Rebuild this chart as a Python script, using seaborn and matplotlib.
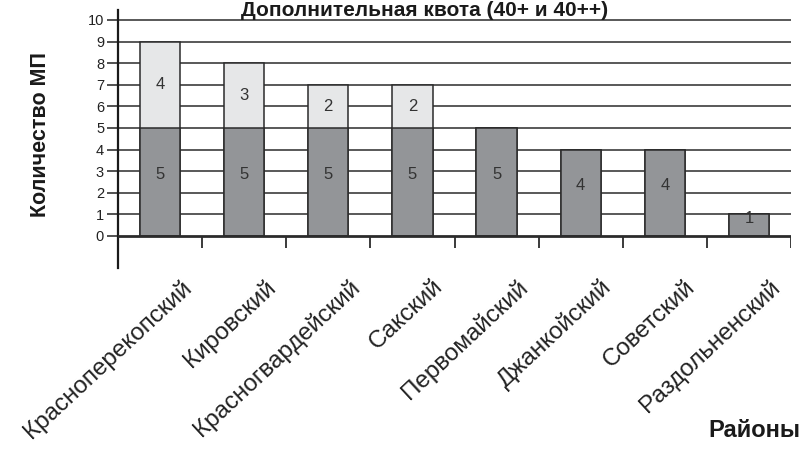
import numpy as np
import pandas as pd
import matplotlib
matplotlib.use('Agg')
import matplotlib.pyplot as plt
import matplotlib.transforms as mtransforms
import seaborn as sns

# data
districts = ['Красноперекопский', 'Кировский', 'Красногвардейский', 'Сакский',
             'Первомайский', 'Джанкойский', 'Советский', 'Раздольненский']
base_quota = [5, 5, 5, 5, 5, 4, 4, 1]
extra_quota = [4, 3, 2, 2, 0, 0, 0, 0]
y_ticks = list(range(0, 11))

df = pd.DataFrame({'district': districts, 'base': base_quota, 'extra': extra_quota})
df['total'] = df['base'] + df['extra']

sns.set_style('white')
plt.rcParams['font.family'] = ['Liberation Sans', 'DejaVu Sans']

fig = plt.figure(figsize=(8.08, 4.57), dpi=100)
ax = fig.add_axes([0.146, 0.414, 0.833, 0.564])

edge = '#2b2b2b'
# full height first (light), then the base part on top (dark)
sns.barplot(data=df, x='district', y='total', color='#e6e7e8', saturation=1,
            width=0.48, edgecolor=edge, linewidth=1.1, ax=ax, zorder=3)
sns.barplot(data=df, x='district', y='base', color='#939598', saturation=1,
            width=0.48, edgecolor=edge, linewidth=1.1, ax=ax, zorder=4)

light_bars = ax.containers[0]
dark_bars = ax.containers[1]

# labels for the extra part, only where there is one
for bar, e, t in zip(light_bars, df['extra'], df['total']):
    if e > 0:
        ax.text(bar.get_x() + bar.get_width() / 2, t - e / 2, str(e),
                ha='center', va='center', fontsize=12, color='#333333', zorder=6)
ax.bar_label(dark_bars, labels=[str(v) for v in base_quota], label_type='center',
             padding=5, fontsize=12, color='#333333', zorder=6)

ax.set_xlim(-0.5, len(districts) - 0.5)
ax.set_ylim(-1.48, 10.46)
ax.set_yticks(y_ticks)
ax.set_yticklabels([str(v) for v in y_ticks], fontsize=10.5)
ax.tick_params(axis='y', which='major', left=True, length=8, width=1.1, pad=2,
               colors='#222222', direction='out')

# horizontal lines at every integer, the zero line heavier
for v in y_ticks:
    ax.axhline(v, color='#2b2b2b', lw=2.0 if v == 0 else 1.1, zorder=2 if v else 5)

# small ticks below the zero line between categories
bounds = np.arange(len(districts)) + 0.5
ax.vlines(bounds, -0.55, 0, color='#2b2b2b', lw=1.3, zorder=5)

for s in ['top', 'right', 'bottom']:
    ax.spines[s].set_visible(False)
ax.spines['left'].set_color('#1a1a1a')
ax.spines['left'].set_linewidth(1.6)

ax.set_xlabel('')
ax.set_ylabel('')
ax.tick_params(axis='x', bottom=False, length=0)
offset = mtransforms.ScaledTranslation(0.20, -0.03, fig.dpi_scale_trans)
ax.set_xticks(range(len(districts)))
ax.set_xticklabels(districts, rotation=43, ha='right', va='top',
                   rotation_mode='anchor', fontsize=17.5, color='#222222')
for lab in ax.get_xticklabels():
    lab.set_transform(lab.get_transform() + offset)

fig.text(0.525, 0.966, 'Дополнительная квота (40+ и 40++)', ha='center',
         va='baseline', fontsize=15, fontweight='bold', color='#1a1a1a')
fig.text(0.05, 0.705, 'Количество МП', rotation=90, ha='center', va='center',
         fontsize=15.5, fontweight='bold', color='#1a1a1a')
fig.text(0.99, 0.059, 'Районы', ha='right', va='center',
         fontsize=17, fontweight='bold', color='#1a1a1a')

fig.savefig('out.png', dpi=100)
